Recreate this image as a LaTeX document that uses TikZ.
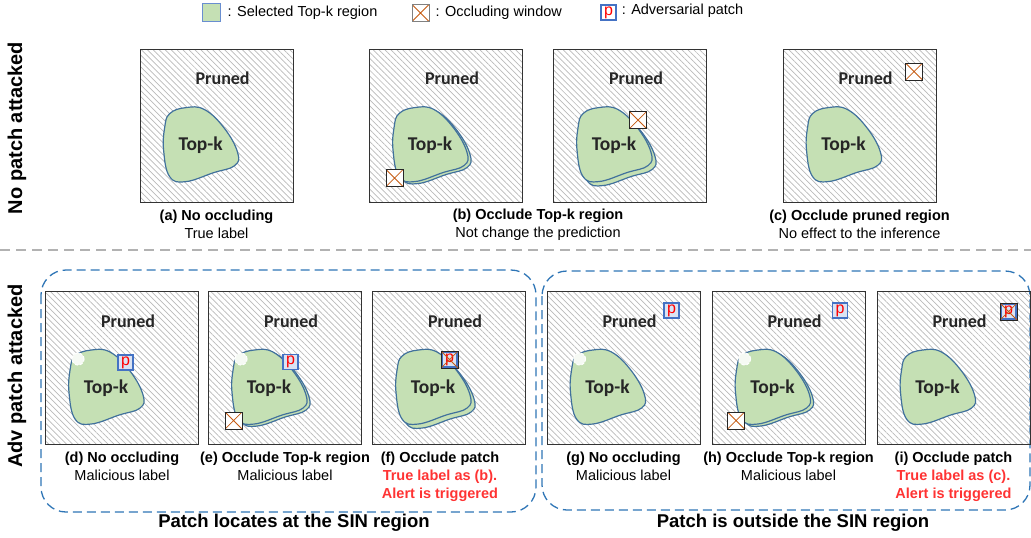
\documentclass[tikz,border=0pt]{standalone}
\usepackage{fontspec}
\setmainfont{Liberation Sans}
\newfontfamily\carlito{Carlito}
\usetikzlibrary{patterns.meta, positioning}

\definecolor{topkgreen}{RGB}{197,224,180}
\definecolor{topkblue}{RGB}{65,113,156}
\definecolor{patchblue}{RGB}{68,114,196}
\definecolor{patchfill}{RGB}{218,227,243}
\definecolor{occorange}{RGB}{197,90,17}
\definecolor{grpblue}{RGB}{46,117,182}
\definecolor{alertred}{RGB}{255,51,51}

\tikzset{
  panel/.style={draw=black!80, line width=0.9pt, minimum width=153pt, minimum height=153pt,
    inner sep=0pt, pattern={Lines[angle=-45, distance=4.2pt, line width=0.7pt]}, pattern color=gray!55},
  blob/.style={fill=topkgreen, draw=topkblue, line width=1.2pt},
  lbl/.style={font=\carlito\bfseries\fontsize{18}{18}\selectfont, text=black!85},
  topk/.style={font=\carlito\bfseries\fontsize{19.5}{19.5}\selectfont, text=black!85},
  occl/.style={draw=black!85, line width=0.9pt, minimum size=17pt, inner sep=0pt, fill=white,
    path picture={\draw[occorange, line width=0.8pt]
      (path picture bounding box.north west) -- (path picture bounding box.south east)
      (path picture bounding box.north east) -- (path picture bounding box.south west);}},
  advp/.style={draw=patchblue, line width=1.3pt, fill=patchfill, minimum size=15pt, inner sep=0pt,
    text=red, font=\fontsize{16}{16}\selectfont},
  capt/.style={align=center, inner sep=0pt, font=\fontsize{14.5}{18}\selectfont},
  legtext/.style={inner sep=0pt, font=\fontsize{14.5}{14.5}\selectfont},
  grp/.style={draw=grpblue, line width=1.3pt, dash pattern=on 9pt off 5pt, rounded corners=25pt},
  side/.style={rotate=90, font=\bfseries\fontsize{20}{20}\selectfont},
  region/.style={font=\bfseries\fontsize{18.5}{18.5}\selectfont},
}

% Top-k blob, placed from a panel's north west corner
\newcommand{\topkblob}[2][]{%
  \filldraw[blob, shift={(#2)}, #1] plot[smooth cycle, tension=0.7] coordinates
    {(30,65) (46,59) (65,61) (85,80) (98,104) (95,117) (74,124) (46,133) (30,128)
     (24,102) (25,79)};}
% notch left by the patch on the top-k region
\newcommand{\blobnotch}[1]{%
  \fill[shift={(#1)}, white!85!topkgreen] (33,68) circle[radius=6pt];
  \draw[shift={(#1)}, white, densely dashed, line width=1pt] (33,68) circle[radius=6pt];}

\begin{document}
\begin{tikzpicture}[x=1pt, y=-1pt]
\useasboundingbox (0,0) rectangle (1031,538);

% Legend
\node[draw=patchblue!80!white, fill=topkgreen, line width=1pt, minimum size=18pt, inner sep=0pt] (lgk) at (211,12.5) {};
\node[legtext, right=7pt of lgk] (lgkt) {: Selected Top-k region};
\node[occl, draw=gray] (lgw) at (420.5,13) {};
\node[legtext, right=6pt of lgw] (lgwt) {: Occluding window};
\node[advp, fill=white] (lgp) at (608.5,12.5) {p};
\node[legtext, right=5pt of lgp, yshift=1.5pt] (lgpt) {: Adversarial patch};

% Row labels and separator
\node[side] (rowno) at (17,128) {No patch attacked};
\node[side] (rowadv) at (17,376) {Adv patch attacked};
\draw[gray!60, line width=1.5pt, dash pattern=on 10pt off 6pt] (0,250) -- (1031,250);

% (a) no occluding
\node[panel] (pa) at (216.5,125.5) {};
\topkblob{pa.north west}
\node[lbl] (pra) at ([shift={(83,30)}]pa.north west) {Pruned};
\node[topk] (tka) at ([shift={(61,97)}]pa.north west) {Top-k};
\node[capt, below=7pt of pa] (capa) {\textbf{(a) No occluding}\\True label};

% (b) occlude top-k region, two windows
\node[panel] (pb1) at (446,125.5) {};
\topkblob[xshift=3pt, yshift=-2pt]{pb1.north west}
\topkblob{pb1.north west}
\node[lbl] (prb1) at ([shift={(83,30)}]pb1.north west) {Pruned};
\node[topk] (tkb1) at ([shift={(61,97)}]pb1.north west) {Top-k};
\node[occl] (wb1) at ([shift={(25.5,129.5)}]pb1.north west) {};

\node[panel] (pb2) at (630,125.5) {};
\topkblob[xshift=4pt, yshift=-4pt]{pb2.north west}
\topkblob{pb2.north west}
\node[lbl] (prb2) at ([shift={(83,30)}]pb2.north west) {Pruned};
\node[topk] (tkb2) at ([shift={(61,97)}]pb2.north west) {Top-k};
\node[occl] (wb2) at ([shift={(85,71.5)}]pb2.north west) {};
\node[capt, anchor=north] (capb) at (538,209) {\textbf{(b) Occlude Top-k region}\\Not change the prediction};

% (c) occlude pruned region
\node[panel] (pc) at (859.5,125.5) {};
\topkblob{pc.north west}
\node[lbl] (prc) at ([shift={(83,30)}]pc.north west) {Pruned};
\node[topk] (tkc) at ([shift={(61,97)}]pc.north west) {Top-k};
\node[occl] (wc) at ([shift={(131.5,23)}]pc.north west) {};
\node[capt, below=7pt of pc] (capc) {\textbf{(c) Occlude pruned region}\\No effect to the inference};

% Patch groups
\draw[grp] (41,270) rectangle (536,512);
\draw[grp] (542,271) rectangle (1030,510);

% (d) no occluding
\node[panel] (pd) at (122,368) {};
\topkblob{pd.north west}
\blobnotch{pd.north west}
\node[lbl] (prd) at ([shift={(83,30)}]pd.north west) {Pruned};
\node[topk] (tkd) at ([shift={(61,97)}]pd.north west) {Top-k};
\node[advp] (ptd) at ([shift={(80.5,71.5)}]pd.north west) {p};
\node[capt, below=7pt of pd] (capd) {\textbf{(d) No occluding}\\Malicious label};

% (e) occlude top-k region
\node[panel] (pe) at (285,368) {};
\topkblob[xshift=3pt, yshift=-2pt]{pe.north west}
\topkblob{pe.north west}
\blobnotch{pe.north west}
\node[lbl] (pre) at ([shift={(83,30)}]pe.north west) {Pruned};
\node[topk] (tke) at ([shift={(61,97)}]pe.north west) {Top-k};
\node[advp] (pte) at ([shift={(82.5,71)}]pe.north west) {p};
\node[occl] (we) at ([shift={(25.5,129.5)}]pe.north west) {};
\node[capt, below=7pt of pe] (cape) {\textbf{(e) Occlude Top-k region}\\Malicious label};

% (f) occlude patch
\node[panel] (pf) at (449,368) {};
\topkblob[xshift=4pt, yshift=-4pt]{pf.north west}
\topkblob{pf.north west}
\node[lbl] (prf) at ([shift={(83,30)}]pf.north west) {Pruned};
\node[topk] (tkf) at ([shift={(61,97)}]pf.north west) {Top-k};
\node[advp] (ptf) at ([shift={(77.5,68.5)}]pf.north west) {p};
\node[occl, fill=none] (wf) at (ptf) {};
\node[capt, below=7pt of pf, xshift=-9pt] (capf) {\textbf{(f) Occlude patch}\\
  \textcolor{alertred}{\textbf{True label as (b).}}\\\textcolor{alertred}{\textbf{Alert is triggered}}};

% (g) no occluding
\node[panel] (pg) at (623.5,368) {};
\topkblob{pg.north west}
\blobnotch{pg.north west}
\node[lbl] (prg) at ([shift={(83,30)}]pg.north west) {Pruned};
\node[topk] (tkg) at ([shift={(61,97)}]pg.north west) {Top-k};
\node[advp] (ptg) at ([shift={(125,19.5)}]pg.north west) {p};
\node[capt, below=7pt of pg] (capg) {\textbf{(g) No occluding}\\Malicious label};

% (h) occlude top-k region
\node[panel] (ph) at (788.5,368) {};
\topkblob[xshift=3pt, yshift=-2pt]{ph.north west}
\topkblob{ph.north west}
\blobnotch{ph.north west}
\node[lbl] (prh) at ([shift={(83,30)}]ph.north west) {Pruned};
\node[topk] (tkh) at ([shift={(61,97)}]ph.north west) {Top-k};
\node[advp] (pth) at ([shift={(128.5,19.5)}]ph.north west) {p};
\node[occl] (wh) at ([shift={(24.5,129.5)}]ph.north west) {};
\node[capt, below=7pt of ph] (caph) {\textbf{(h) Occlude Top-k region}\\Malicious label};

% (i) occlude patch
\node[panel] (pi) at (953.5,368) {};
\topkblob{pi.north west}
\node[lbl] (pri) at ([shift={(83,30)}]pi.north west) {Pruned};
\node[topk] (tki) at ([shift={(61,97)}]pi.north west) {Top-k};
\node[advp] (pti) at ([shift={(132,20.5)}]pi.north west) {p};
\node[occl, fill=none] (wi) at (pti) {};
\node[capt, below=7pt of pi] (capi) {\textbf{(i) Occlude patch}\\
  \textcolor{alertred}{\textbf{True label as (c).}}\\\textcolor{alertred}{\textbf{Alert is triggered}}};

% Group titles
\node[region] (locin) at (294,523) {Patch locates at the SIN region};
\node[region] (locout) at (793,523) {Patch is outside the SIN region};
\end{tikzpicture}
\end{document}
